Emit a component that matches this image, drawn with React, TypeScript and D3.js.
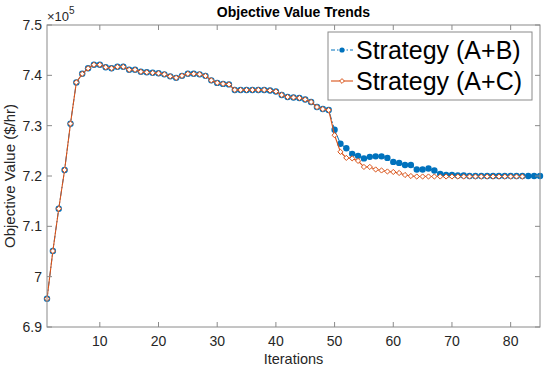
import React from "react";
import * as d3 from "d3";

const iterationsAB: number[] = d3.range(1, 86);
const iterationsAC: number[] = d3.range(1, 83);

const shared: number[] = [
  6.956, 7.051, 7.135, 7.212, 7.304, 7.386, 7.403, 7.414, 7.421, 7.421,
  7.416, 7.414, 7.417, 7.417, 7.411, 7.411, 7.407, 7.406, 7.405, 7.404,
  7.402, 7.398, 7.395, 7.399, 7.403, 7.403, 7.402, 7.399, 7.390, 7.385,
  7.383, 7.382, 7.371, 7.371, 7.371, 7.371, 7.371, 7.371, 7.370, 7.368,
  7.361, 7.357, 7.356, 7.355, 7.352, 7.347, 7.337, 7.333, 7.331,
];

const tailAB: number[] = [
  7.292, 7.264, 7.255, 7.244, 7.240, 7.235, 7.238, 7.239, 7.239, 7.236,
  7.228, 7.226, 7.222, 7.222, 7.213, 7.213, 7.215, 7.211, 7.204, 7.202,
  7.202, 7.201, 7.201, 7.200, 7.200, 7.200, 7.200, 7.200, 7.200, 7.200,
  7.200, 7.200, 7.200, 7.200, 7.200, 7.200,
];

const tailAC: number[] = [
  7.281, 7.248, 7.236, 7.235, 7.230, 7.218, 7.218, 7.213, 7.211, 7.209,
  7.208, 7.206, 7.202, 7.200, 7.199, 7.199, 7.199, 7.199, 7.199, 7.199,
  7.199, 7.199, 7.199, 7.199, 7.199, 7.199, 7.199, 7.199, 7.199, 7.199,
  7.199, 7.199, 7.199,
];

const valuesAB: number[] = [...shared, ...tailAB];
const valuesAC: number[] = [...shared, ...tailAC];

const xTicks: number[] = [10, 20, 30, 40, 50, 60, 70, 80];
const yTicks: number[] = [6.9, 7, 7.1, 7.2, 7.3, 7.4, 7.5];
const yTickLabels: string[] = ["6.9", "7", "7.1", "7.2", "7.3", "7.4", "7.5"];
const seriesNames: string[] = ["Strategy (A+B)", "Strategy (A+C)"];

const BLUE = "#0072BD";
const ORANGE = "#D95319";
const AXIS = "#8a8a8a";
const FONT = "'Liberation Sans', Arial, Helvetica, sans-serif";

export default function App() {
  const W = 550;
  const H = 376;
  const left = 47;
  const right = 540;
  const top = 25;
  const bottom = 327;

  const x = d3.scaleLinear().domain([1, 85]).range([left, right]);
  const y = d3.scaleLinear().domain([6.9, 7.5]).range([bottom, top]);

  const ptsAB = iterationsAB.map((it, i) => [it, valuesAB[i]] as [number, number]);
  const ptsAC = iterationsAC.map((it, i) => [it, valuesAC[i]] as [number, number]);

  const line = d3
    .line<[number, number]>()
    .x((d) => x(d[0]))
    .y((d) => y(d[1]));

  const diamond = (cx: number, cy: number, r: number) =>
    `M${cx},${cy - r}L${cx + r},${cy}L${cx},${cy + r}L${cx - r},${cy}Z`;

  const tickLen = 5;

  return (
    <svg
      width={W}
      height={H}
      style={{ position: "absolute", left: 0, top: 0, background: "#fff" }}
      fontFamily={FONT}
    >
      <rect x={0} y={0} width={W} height={H} fill="#fff" />
      <rect x={left} y={top} width={right - left} height={bottom - top} fill="#fff" />

      {/* series */}
      <path
        d={line(ptsAB) || ""}
        fill="none"
        stroke={BLUE}
        strokeWidth={1}
        strokeDasharray="6,2,1.5,2"
      />
      {ptsAB.map((d, i) => (
        <circle key={"b" + i} cx={x(d[0])} cy={y(d[1])} r={3.2} fill={BLUE} />
      ))}
      <path d={line(ptsAC) || ""} fill="none" stroke={ORANGE} strokeWidth={1.1} />
      {ptsAC.map((d, i) => (
        <path
          key={"o" + i}
          d={diamond(x(d[0]), y(d[1]), 2.6)}
          fill="#fff"
          stroke={ORANGE}
          strokeWidth={1}
        />
      ))}

      {/* axes box */}
      <rect
        x={left}
        y={top}
        width={right - left}
        height={bottom - top}
        fill="none"
        stroke={AXIS}
        strokeWidth={1}
      />
      {xTicks.map((t) => (
        <g key={"xt" + t}>
          <line x1={x(t)} x2={x(t)} y1={bottom} y2={bottom - tickLen} stroke={AXIS} />
          <line x1={x(t)} x2={x(t)} y1={top} y2={top + tickLen} stroke={AXIS} />
          <text x={x(t)} y={bottom + 19} fontSize={14} textAnchor="middle" fill="#262626">
            {t}
          </text>
        </g>
      ))}
      {yTicks.map((t, i) => (
        <g key={"yt" + t}>
          <line x1={left} x2={left + tickLen} y1={y(t)} y2={y(t)} stroke={AXIS} />
          <line x1={right} x2={right - tickLen} y1={y(t)} y2={y(t)} stroke={AXIS} />
          <text x={left - 5} y={y(t) + 5} fontSize={14} textAnchor="end" fill="#262626">
            {yTickLabels[i]}
          </text>
        </g>
      ))}

      {/* exponent */}
      <text x={47} y={21} fontSize={13} fill="#262626">
        ×10
        <tspan fontSize={10} dy={-7}>5</tspan>
      </text>

      {/* title */}
      <text x={(left + right) / 2} y={17} fontSize={14} fontWeight="bold" textAnchor="middle" fill="#000">
        Objective Value Trends
      </text>

      {/* axis labels */}
      <text x={(left + right) / 2} y={364} fontSize={14.5} textAnchor="middle" fill="#262626">
        Iterations
      </text>
      <text
        transform={`translate(15,${(top + bottom) / 2}) rotate(-90)`}
        fontSize={15}
        textAnchor="middle"
        fill="#262626"
      >
        Objective Value ($/hr)
      </text>

      {/* legend */}
      <rect x={328} y={32} width={204} height={68} fill="#fff" stroke={AXIS} strokeWidth={1} />
      <line x1={331} x2={353} y1={50} y2={50} stroke={BLUE} strokeWidth={1} strokeDasharray="4,2,1.5,2" />
      <circle cx={342} cy={50} r={2.6} fill={BLUE} />
      <text x={356} y={59} fontSize={25} fill="#000">
        {seriesNames[0]}
      </text>
      <line x1={331} x2={353} y1={81} y2={81} stroke={ORANGE} strokeWidth={1.1} />
      <path d={diamond(342, 81, 2.4)} fill="#fff" stroke={ORANGE} strokeWidth={1} />
      <text x={356} y={90} fontSize={25} fill="#000">
        {seriesNames[1]}
      </text>
    </svg>
  );
}
